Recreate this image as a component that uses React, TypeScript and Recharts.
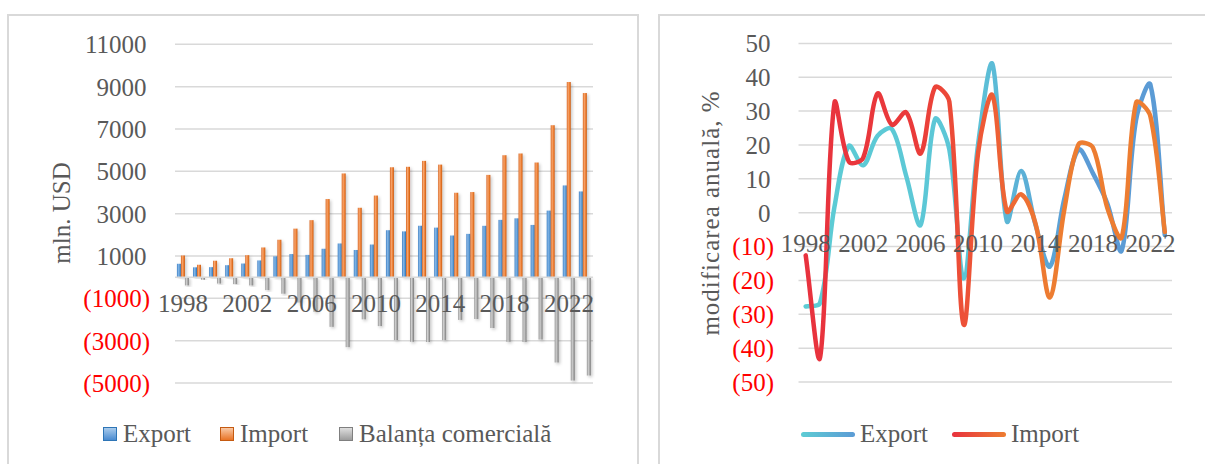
import React from 'react'
import { BarChart, Bar, LineChart, Line, XAxis, YAxis, CartesianGrid, ReferenceLine } from 'recharts'

const years = ['1998', '1999', '2000', '2001', '2002', '2003', '2004', '2005', '2006', '2007', '2008', '2009', '2010',
  '2011', '2012', '2013', '2014', '2015', '2016', '2017', '2018', '2019', '2020', '2021', '2022', '2023']

// mln. USD
const exportUsd = [632, 464, 472, 565, 644, 790, 985, 1091, 1052, 1342, 1591, 1283, 1541, 2217, 2162, 2428, 2340, 1967, 2045, 2425, 2706, 2779, 2467, 3144, 4333, 4049]
const importUsd = [1024, 586, 776, 893, 1038, 1403, 1768, 2292, 2693, 3690, 4899, 3278, 3855, 5191, 5213, 5493, 5317, 3987, 4020, 4831, 5760, 5842, 5416, 7177, 9218, 8697]
const balanceUsd = [-392, -122, -304, -328, -394, -613, -783, -1201, -1641, -2348, -3308, -1995, -2314, -2974, -3051, -3065, -2977, -2020, -1975, -2406, -3054, -3063, -2949, -4033, -4885, -4648]

// modificarea anuala, %
const exportPct = [-27.7, -26.6, 1.7, 19.7, 14.0, 22.7, 24.7, 10.8, -3.6, 27.6, 18.6, -19.4, 20.1, 43.9, -2.5, 12.3, -3.6, -15.9, 4.0, 18.6, 11.6, 2.7, -11.2, 27.4, 37.8, -6.6]
const importPct = [-12.6, -42.8, 32.4, 15.1, 16.2, 35.2, 26.0, 29.6, 17.5, 37.0, 32.8, -33.1, 17.6, 34.7, 0.4, 5.4, -3.2, -25.0, 0.8, 20.2, 19.2, 1.4, -7.3, 32.5, 28.4, -5.7]

const usdTicks = [-5000, -3000, -1000, 1000, 3000, 5000, 7000, 9000, 11000]
const pctTicks = [-50, -40, -30, -20, -10, 0, 10, 20, 30, 40, 50]

const FONT = '"Liberation Serif", serif'
const TEXT = '#595959'
const GRID = '#D9D9D9'

const barData = years.map((year, i) => ({ year, exp: exportUsd[i], imp: importUsd[i], bal: balanceUsd[i] }))
const lineData = years.map((year, i) => ({ year, exp: exportPct[i], imp: importPct[i] }))

// Excel-like smoothed line: bezier through the points, tangents weighted by segment lengths
const excelSmooth = (context: any) => {
  let pts: number[][] = []
  const dist = (a: number[], b: number[]) => Math.hypot(b[0] - a[0], b[1] - a[1])
  return {
    areaStart() {},
    areaEnd() {},
    lineStart() { pts = [] },
    point(x: number, y: number) { pts.push([+x, +y]) },
    lineEnd() {
      const n = pts.length
      if (!n) return
      context.moveTo(pts[0][0], pts[0][1])
      for (let i = 0; i < n - 1; i++) {
        const p0 = pts[i - 1] || pts[i]
        const p1 = pts[i]
        const p2 = pts[i + 1]
        const p3 = pts[i + 2] || p2
        const d01 = dist(p0, p1)
        const d12 = dist(p1, p2)
        const d23 = dist(p2, p3)
        const f1 = d01 + d12 > 0 ? d12 / (d01 + d12) / 3 : 0
        const f2 = d12 + d23 > 0 ? d12 / (d12 + d23) / 3 : 0
        context.bezierCurveTo(
          p1[0] + (p2[0] - p0[0]) * f1, p1[1] + (p2[1] - p0[1]) * f1,
          p2[0] - (p3[0] - p1[0]) * f2, p2[1] - (p3[1] - p1[1]) * f2,
          p2[0], p2[1])
      }
    },
  }
}

const YTick = ({ x, y, payload }: any) => {
  const v = payload.value
  const neg = v < 0
  return (
    <text x={neg ? x : x - 3.5} y={y} dy="0.355em" textAnchor="end" fontFamily={FONT} fontSize={25}
      fill={neg ? '#FF0000' : TEXT}>
      {neg ? `(${Math.abs(v)})` : `${v}`}
    </text>
  )
}

const makeXTick = (shift: number) => ({ x, y, payload }: any) => (
  <text x={x} y={y + shift} textAnchor="middle" fontFamily={FONT} fontSize={25} fill={TEXT}>
    {payload.value}
  </text>
)
const BarXTick = makeXTick(-71.5)
const LineXTick = makeXTick(-130.5)

const barShape = (fillId: string) => (props: any) => {
  const { x, y, width, height } = props
  if (width == null || height == null) return null
  const top = Math.min(y, y + height)
  const h = Math.abs(height)
  return <rect x={x} y={top} width={width} height={h} fill={`url(#${fillId})`} filter="url(#barShadow)" />
}

const Square = ({ from, to, border }: any) => (
  <span style={{
    display: 'inline-block', width: 12, height: 12, marginRight: 6,
    background: `linear-gradient(to bottom, ${from}, ${to})`, border: `1px solid ${border}`,
  }} />
)

const Stroke = ({ from, to }: any) => (
  <span style={{
    display: 'inline-block', width: 54, height: 5, borderRadius: 3, marginRight: 5,
    background: `linear-gradient(to right, ${from}, ${to})`,
  }} />
)

const title = (text: string, cx: number, cy: number, spacing = 0) => (
  <div style={{
    position: 'absolute', left: cx, top: cy, transform: 'translate(-50%, -50%) rotate(-90deg)',
    whiteSpace: 'nowrap', fontFamily: FONT, fontSize: 25, color: TEXT, letterSpacing: spacing,
  }}>{text}</div>
)

export default function App() {
  return (
    <div style={{ position: 'absolute', left: 0, top: 0, width: 1205, height: 464, overflow: 'hidden', background: '#fff', fontFamily: FONT }}>
      <div style={{ position: 'absolute', left: 7, top: 14, width: 632, height: 480, border: `2px solid ${GRID}`, boxSizing: 'border-box' }} />
      <div style={{ position: 'absolute', left: 658, top: 14, width: 570, height: 480, border: `2px solid ${GRID}`, boxSizing: 'border-box' }} />

      <div style={{ position: 'absolute', left: 0, top: 0 }}>
        <BarChart width={640} height={464} data={barData} margin={{ top: 44.3, right: 47, bottom: 51, left: 0 }}
          barCategoryGap="12%" barGap={0}>
          <defs>
            <linearGradient id="gExp" x1="0" x2="1" y1="0" y2="0">
              <stop offset="0" stopColor="#3C7FC4" />
              <stop offset="0.35" stopColor="#82B4E6" />
              <stop offset="0.7" stopColor="#5B9BD5" />
              <stop offset="1" stopColor="#2F6FB0" />
            </linearGradient>
            <linearGradient id="gImp" x1="0" x2="1" y1="0" y2="0">
              <stop offset="0" stopColor="#D8621C" />
              <stop offset="0.35" stopColor="#F6A56D" />
              <stop offset="0.7" stopColor="#ED7D31" />
              <stop offset="1" stopColor="#C55A11" />
            </linearGradient>
            <linearGradient id="gBal" x1="0" x2="1" y1="0" y2="0">
              <stop offset="0" stopColor="#8C8C8C" />
              <stop offset="0.35" stopColor="#D0D0D0" />
              <stop offset="0.7" stopColor="#A5A5A5" />
              <stop offset="1" stopColor="#7A7A7A" />
            </linearGradient>
            <filter id="barShadow" x="-100%" y="-10%" width="300%" height="120%">
              <feDropShadow dx="1.5" dy="1.5" stdDeviation="1.6" floodColor="#000" floodOpacity="0.22" />
            </filter>
          </defs>
          <CartesianGrid vertical={false} stroke={GRID} strokeWidth={1.5} />
          <XAxis dataKey="year" height={30} axisLine={false} tickLine={false} tickSize={0} tickMargin={0}
            interval={3} tick={<BarXTick />} />
          <YAxis width={175} domain={[-5000, 11000]} ticks={usdTicks} interval={0} axisLine={false}
            tickLine={false} tickSize={0} tickMargin={25} tick={<YTick />} />
          <ReferenceLine y={0} stroke={GRID} strokeWidth={1.5} />
          <Bar dataKey="exp" shape={barShape('gExp')} isAnimationActive={false} />
          <Bar dataKey="imp" shape={barShape('gImp')} isAnimationActive={false} />
          <Bar dataKey="bal" shape={barShape('gBal')} isAnimationActive={false} />
        </BarChart>
      </div>

      <div style={{ position: 'absolute', left: 640, top: 0 }}>
        <LineChart width={565} height={464} data={lineData} margin={{ top: 43.4, right: 33, bottom: 52, left: 0 }}>
          <defs>
            <linearGradient id="lExp" x1="0" x2="1" y1="0" y2="0">
              <stop offset="0" stopColor="#5DCCD4" />
              <stop offset="0.45" stopColor="#5CC6D7" />
              <stop offset="0.75" stopColor="#5B9BD5" />
              <stop offset="1" stopColor="#5B9BD5" />
            </linearGradient>
            <linearGradient id="lImp" x1="0" x2="1" y1="0" y2="0">
              <stop offset="0" stopColor="#E8323E" />
              <stop offset="0.3" stopColor="#EA3A3A" />
              <stop offset="0.5" stopColor="#EE5A36" />
              <stop offset="0.68" stopColor="#ED7D31" />
              <stop offset="1" stopColor="#ED7D31" />
            </linearGradient>
          </defs>
          <CartesianGrid vertical={false} stroke={GRID} strokeWidth={1.5} />
          <XAxis dataKey="year" height={30} axisLine={false} tickLine={false} tickSize={0} tickMargin={0}
            interval={3} padding={{ left: 7.2, right: 7.2 }} tick={<LineXTick />} />
          <YAxis width={158.5} domain={[-50, 50]} ticks={pctTicks} interval={0} axisLine={false}
            tickLine={false} tickSize={0} tickMargin={24.5} tick={<YTick />} />
          <Line dataKey="exp" type={excelSmooth as any} stroke="url(#lExp)" strokeWidth={4.5} dot={false}
            strokeLinecap="round" strokeLinejoin="round" isAnimationActive={false} />
          <Line dataKey="imp" type={excelSmooth as any} stroke="url(#lImp)" strokeWidth={4.5} dot={false}
            strokeLinecap="round" strokeLinejoin="round" isAnimationActive={false} />
        </LineChart>
      </div>

      {title('mln. USD', 62, 213)}
      {title('modificarea anuală, %', 711, 213, 1)}

      <div style={{ position: 'absolute', left: 103, top: 420, height: 28, display: 'flex', alignItems: 'center', fontSize: 25, color: TEXT, whiteSpace: 'nowrap' }}>
        <Square from="#A9CBEC" to="#4A8BD0" border="#2E75B6" />
        <span style={{ marginRight: 29 }}>Export</span>
        <Square from="#F9C9A6" to="#E97426" border="#C55A11" />
        <span style={{ marginRight: 31 }}>Import</span>
        <Square from="#DEDEDE" to="#9C9C9C" border="#7F7F7F" />
        <span>Balanța comercială</span>
      </div>

      <div style={{ position: 'absolute', left: 801, top: 420, height: 28, display: 'flex', alignItems: 'center', fontSize: 25, color: TEXT, whiteSpace: 'nowrap' }}>
        <Stroke from="#5DCCD4" to="#5B9BD5" />
        <span style={{ marginRight: 24 }}>Export</span>
        <Stroke from="#E8323E" to="#ED7D31" />
        <span>Import</span>
      </div>
    </div>
  )
}
